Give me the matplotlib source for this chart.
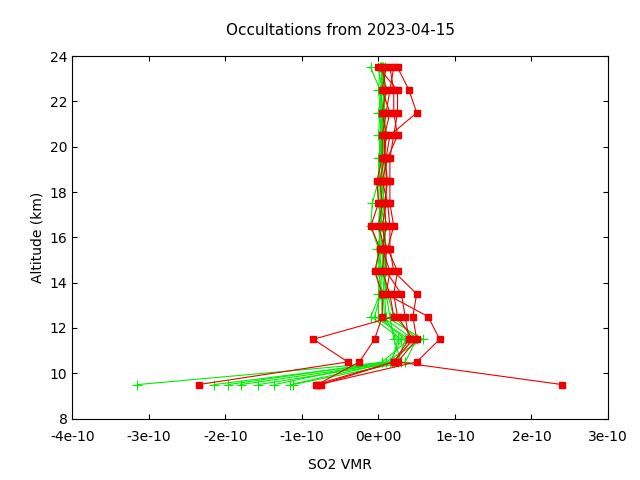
import matplotlib.pyplot as plt
import numpy as np

alt = [9.5, 10.5, 11.5, 12.5, 13.5, 14.5, 15.5, 16.5, 17.5, 18.5, 19.5, 20.5, 21.5, 22.5, 23.5]

# SO2 VMR in units of 1e-10, one list per occultation
green = [
    [-3.15, 0.15, 0.30, -0.10, 0.02, -0.03, 0.00, -0.10, -0.08, 0.00, 0.02, 0.03, 0.05, 0.02, -0.10],
    [-2.15, 0.20, 0.45, 0.05, 0.05, 0.00, 0.03, 0.00, 0.02, 0.03, 0.05, 0.00, 0.02, 0.05, 0.00],
    [-1.96, 0.10, 0.58, 0.10, 0.08, 0.05, 0.05, 0.02, 0.04, 0.05, 0.03, 0.05, 0.06, 0.03, 0.05],
    [-1.80, 0.25, 0.35, 0.00, 0.00, 0.02, -0.02, 0.05, 0.00, 0.01, 0.00, 0.08, 0.03, 0.00, 0.02],
    [-1.57, 0.30, 0.20, 0.15, 0.10, 0.08, 0.06, 0.10, 0.06, 0.07, 0.08, 0.10, 0.08, 0.06, 0.04],
    [-1.36, 0.05, 0.40, -0.05, 0.03, 0.04, 0.01, 0.03, 0.05, 0.02, 0.01, 0.02, 0.04, 0.08, 0.08],
    [-1.15, 0.18, 0.25, 0.08, 0.06, 0.10, 0.08, 0.06, 0.08, 0.04, 0.06, 0.07, 0.00, 0.04, 0.06],
    [-1.12, 0.35, 0.50, 0.20, 0.12, 0.06, 0.10, 0.08, 0.03, 0.06, 0.10, 0.04, 0.07, 0.10, 0.03],
]
red = [
    [-2.35, -0.40, -0.85, 0.20, 0.15, 0.05, 0.08, 0.00, 0.05, 0.02, 0.08, 0.10, 0.05, 0.10, 0.05],
    [-0.80, -0.25, -0.05, 0.05, 0.05, -0.05, 0.02, -0.10, 0.00, -0.02, 0.05, 0.05, 0.10, 0.15, 0.20],
    [-0.75, 0.20, 0.40, 0.35, 0.30, 0.10, 0.10, 0.05, 0.10, 0.10, 0.10, 0.15, 0.50, 0.40, 0.25],
    [2.40, 0.25, 0.50, 0.45, 0.50, 0.20, 0.15, 0.15, 0.12, 0.05, 0.12, 0.25, 0.20, 0.20, 0.15],
    [-0.78, 0.50, 0.80, 0.65, 0.10, 0.15, 0.05, 0.10, 0.08, 0.12, 0.08, 0.08, 0.15, 0.05, 0.10],
    [-0.82, 0.20, 0.45, 0.25, 0.20, 0.25, 0.12, 0.20, 0.15, 0.15, 0.15, 0.20, 0.25, 0.25, 0.00],
]

fig, ax = plt.subplots(figsize=(6.4, 4.8), dpi=100)
for prof in green:
    ax.plot(np.array(prof) * 1e-10, alt, color='#00ee00', lw=0.8, marker='+', ms=7, mew=0.8)
for prof in red:
    ax.plot(np.array(prof) * 1e-10, alt, color='#ee0000', lw=0.8, marker='s', ms=5)

ax.set_xlim(-4e-10, 3e-10)
ax.set_ylim(8, 24)
ax.set_xticks(np.arange(-4, 4) * 1e-10)
ax.set_xticklabels(['-4e-10', '-3e-10', '-2e-10', '-1e-10', '0e+00', '1e-10', '2e-10', '3e-10'])
ax.set_yticks(range(8, 25, 2))
ax.tick_params(direction='in', top=True, right=True)
ax.tick_params(axis='x', pad=8)
ax.set_xlabel('SO2 VMR', labelpad=10)
ax.set_ylabel('Altitude (km)')
ax.set_title('Occultations from 2023-04-15', fontsize=11, pad=15)
fig.subplots_adjust(left=0.113, right=0.95, top=0.883, bottom=0.128)
fig.savefig('out.png')
